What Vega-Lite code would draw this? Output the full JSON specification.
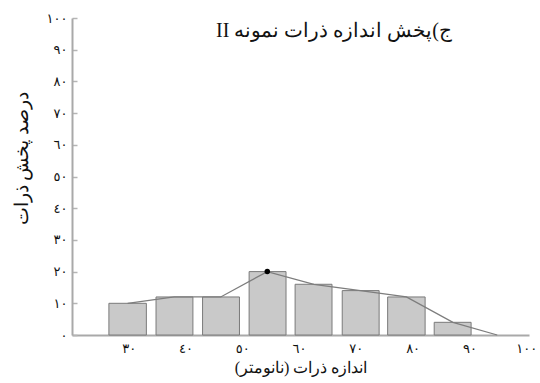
{
  "$schema": "https://vega.github.io/schema/vega-lite/v6.json",
  "width": 457,
  "height": 317,
  "autosize": {"type": "none"},
  "padding": {"left": 72, "top": 18, "right": 11, "bottom": 48},
  "background": "white",
  "title": {
    "text": "\u202Bج)پخش اندازه ذرات نمونه II\u202C",
    "orient": "top",
    "anchor": "end",
    "frame": "group",
    "dx": -77,
    "offset": -45,
    "baseline": "alphabetic",
    "font": "Liberation Serif",
    "fontSize": 20,
    "fontWeight": "normal",
    "color": "#111"
  },
  "datasets": {
    "bins": [
      {"start": 26.5, "end": 33.1, "percent": 10},
      {"start": 34.8, "end": 41.3, "percent": 12},
      {"start": 43.0, "end": 49.5, "percent": 12},
      {"start": 51.2, "end": 57.7, "percent": 20},
      {"start": 59.3, "end": 65.8, "percent": 16},
      {"start": 67.6, "end": 74.1, "percent": 14},
      {"start": 75.6, "end": 82.2, "percent": 12},
      {"start": 83.8, "end": 90.3, "percent": 4}
    ],
    "curve": [
      {"size": 29.8, "percent": 10},
      {"size": 38.0, "percent": 12},
      {"size": 46.2, "percent": 12},
      {"size": 54.4, "percent": 20},
      {"size": 62.6, "percent": 16},
      {"size": 70.8, "percent": 14},
      {"size": 78.9, "percent": 12},
      {"size": 87.1, "percent": 4},
      {"size": 94.9, "percent": 0}
    ]
  },
  "layer": [
    {
      "data": {"name": "bins"},
      "mark": {"type": "rect", "fill": "#c9c9c9", "stroke": "#7a7a7a", "strokeWidth": 1},
      "encoding": {
        "x": {"field": "start", "type": "quantitative"},
        "x2": {"field": "end"},
        "y": {"field": "percent", "type": "quantitative"},
        "y2": {"datum": 0}
      }
    },
    {
      "data": {"name": "curve"},
      "mark": {"type": "line", "color": "#7d7d7d", "strokeWidth": 1.3},
      "encoding": {
        "x": {"field": "size", "type": "quantitative"},
        "y": {"field": "percent", "type": "quantitative"}
      }
    },
    {
      "data": {"name": "curve"},
      "transform": [{"filter": "datum.percent >= 20"}],
      "mark": {"type": "point", "filled": true, "color": "#000", "size": 30, "opacity": 1},
      "encoding": {
        "x": {"field": "size", "type": "quantitative"},
        "y": {"field": "percent", "type": "quantitative"}
      }
    }
  ],
  "resolve": {"scale": {"x": "shared", "y": "shared"}},
  "encoding": {
    "x": {
      "type": "quantitative",
      "scale": {"domain": [20, 100.5], "nice": false, "zero": false},
      "axis": {
        "title": "\u202Bاندازه ذرات (نانومتر)\u202C",
        "values": [30, 40, 50, 60, 70, 80, 90, 100],
        "ticks": false,
        "grid": false,
        "labelPadding": 7,
        "titlePadding": 4
      }
    },
    "y": {
      "type": "quantitative",
      "scale": {"domain": [0, 100], "nice": false},
      "axis": {
        "title": "درصد پخش ذرات",
        "titleFontSize": 19,
        "titleY": 140,
        "values": [0, 10, 20, 30, 40, 50, 60, 70, 80, 90, 100],
        "grid": false,
        "tickSize": -5,
        "tickColor": "#b5b5b5",
        "tickWidth": 1.5,
        "labelPadding": 10,
        "titlePadding": 15
      }
    }
  },
  "config": {
    "view": {"stroke": null},
    "locale": {
      "number": {
        "decimal": ".",
        "thousands": ",",
        "grouping": [3],
        "currency": ["", ""],
        "numerals": ["٠", "١", "٢", "٣", "٤", "٥", "٦", "٧", "٨", "٩"]
      }
    },
    "axis": {
      "domainColor": "#a9a9a9",
      "domainWidth": 2,
      "labelFont": "DejaVu Sans",
      "labelFontSize": 13,
      "labelColor": "#111",
      "titleFont": "Liberation Serif",
      "titleFontSize": 16,
      "titleFontWeight": "normal",
      "titleColor": "#111"
    }
  }
}
